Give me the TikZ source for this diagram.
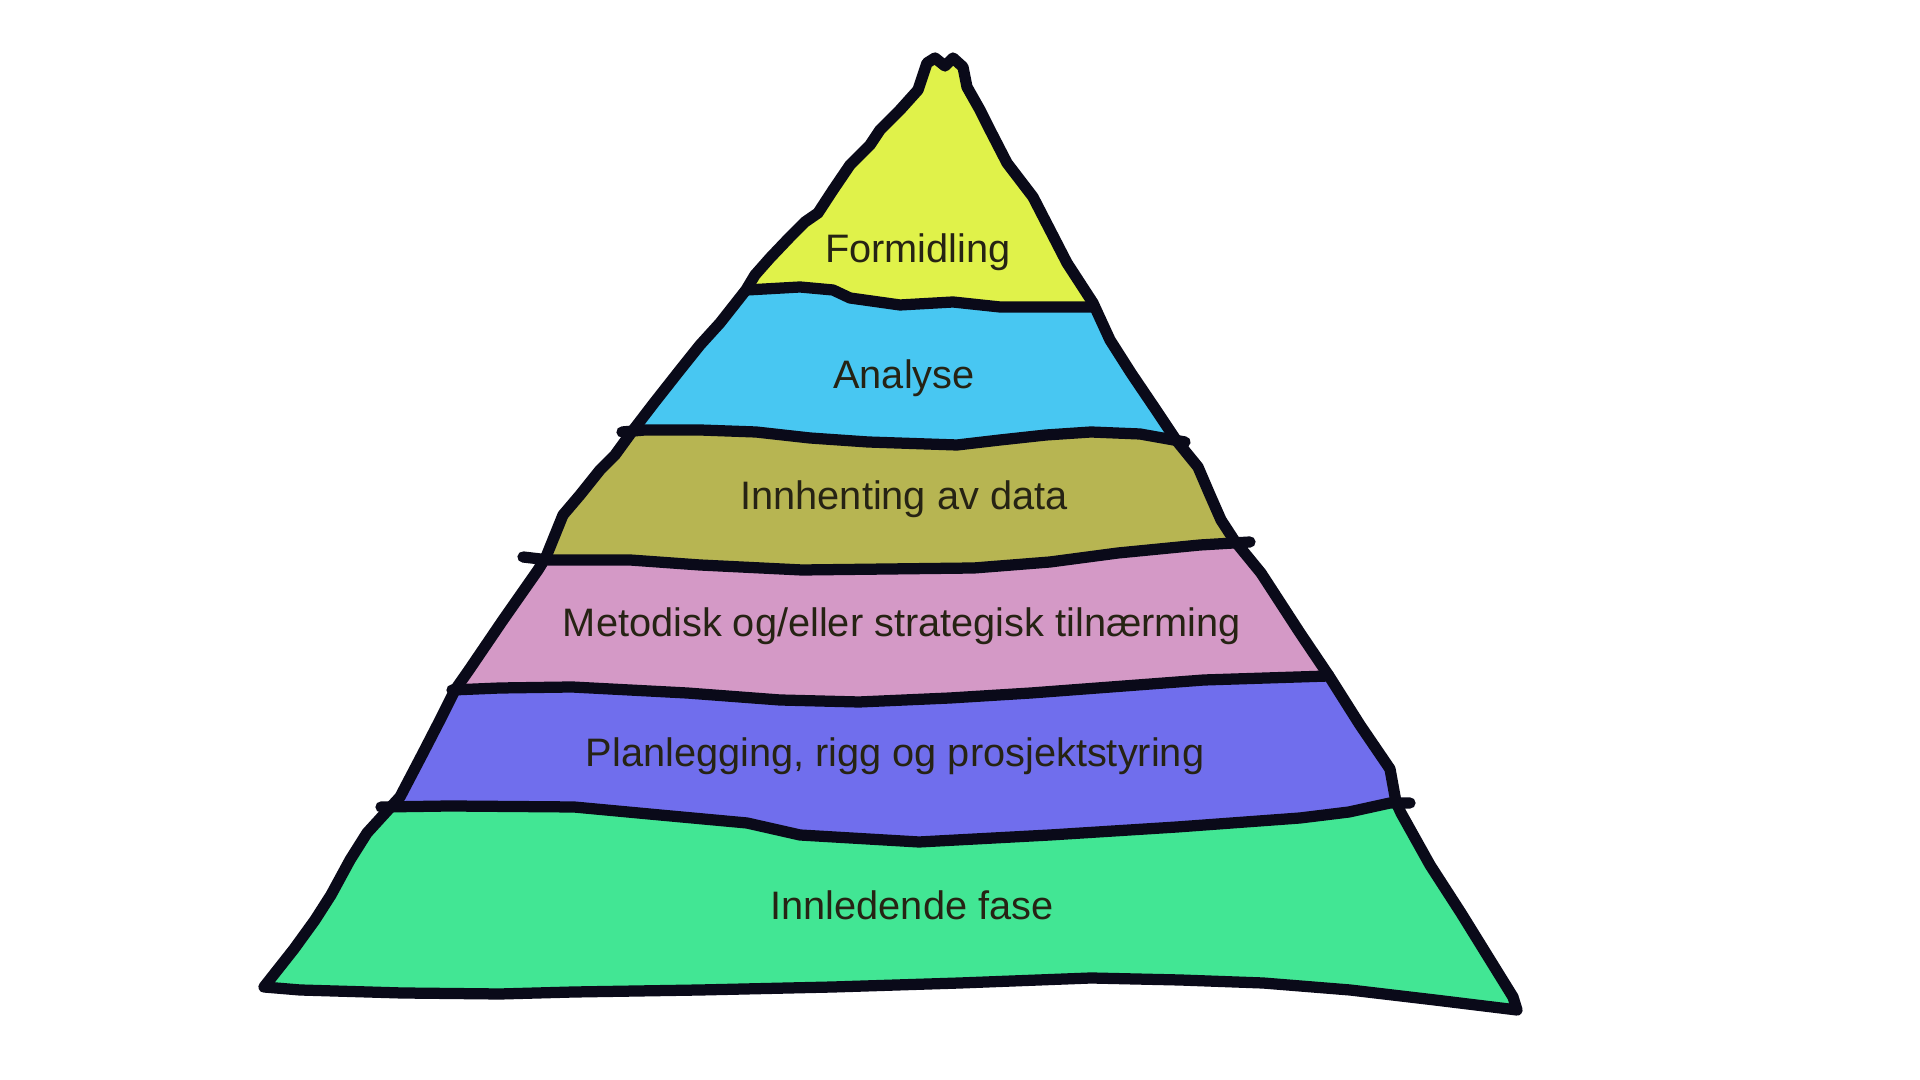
\documentclass[tikz,border=0pt]{standalone}
\usepackage{fontspec}
\setmainfont{Liberation Sans}
\definecolor{cYellow}{RGB}{224,242,74}
\definecolor{cBlue}{RGB}{72,199,242}
\definecolor{cOlive}{RGB}{183,181,82}
\definecolor{cPink}{RGB}{212,153,198}
\definecolor{cPurple}{RGB}{112,110,237}
\definecolor{cGreen}{RGB}{66,230,148}
\definecolor{cLine}{RGB}{10,10,25}
\definecolor{cText}{RGB}{38,35,20}
\tikzset{
  outline/.style={draw=cLine,line width=3.2pt,line join=round,line cap=round},
  label/.style={text=cText,anchor=base,inner sep=0pt,font=\fontsize{11.3pt}{13pt}\selectfont}
}
\begin{document}
\begin{tikzpicture}[x=0.01cm,y=-0.01cm]
\useasboundingbox[fill=white] (0,0) rectangle (1920,1080);
\begin{scope}
\clip (264,987) -- (294,949) -- (315,920) -- (331,895) -- (350,860) -- (367,833) -- (388,810) -- (400,797) -- (423,753) -- (440,720) -- (455,690) -- (469,670) -- (503,620) -- (538,570) -- (546,557) -- (563,515) -- (580,495) -- (600,470) -- (615,455) -- (631,433) -- (654,403) -- (680,370) -- (700,345) -- (720,323) -- (746,290) -- (755,275) -- (770,258) -- (790,237) -- (805,222) -- (818,213) -- (833,190) -- (850,165) -- (870,145) -- (880,130) -- (900,110) -- (918,90) -- (927,63) -- (935,58) -- (945,66) -- (953,58) -- (963,67) -- (967,87) -- (980,110) -- (990,130) -- (1007,163) -- (1020,180) -- (1033,197) -- (1050,230) -- (1067,263) -- (1080,283) -- (1093,303) -- (1110,340) -- (1131,373) -- (1154,407) -- (1176,440) -- (1198,467) -- (1210,495) -- (1221,520) -- (1234,540) -- (1261,573) -- (1300,633) -- (1329,676) -- (1360,725) -- (1390,769) -- (1396,802) -- (1401,813) -- (1430,865) -- (1461,913) -- (1513,997) -- (1517,1010) -- (1435,1000) -- (1350,990) -- (1263,983) -- (1180,980) -- (1091,978) -- (960,983) -- (833,987) -- (700,990) -- (574,992) -- (500,994) -- (402,993) -- (300,990) -- cycle;
\fill[cGreen] (0,0) rectangle (1920,1080);
% above boundary 5
\fill[cPurple] (0,0) -- (0,807) -- (381,807) -- (450,806) -- (574,807) -- (660,815) -- (747,823) -- (800,835) -- (919,842) -- (1050,835) -- (1177,827) -- (1300,818) -- (1349,812) -- (1390,803) -- (1410,803) -- (1920,803) -- (1920,0) -- cycle;
% above boundary 4
\fill[cPink] (0,0) -- (0,690) -- (452,690) -- (500,688) -- (572,687) -- (687,693) -- (780,700) -- (859,702) -- (950,698) -- (1031,693) -- (1204,680) -- (1329,676) -- (1920,676) -- (1920,0) -- cycle;
% above boundary 3
\fill[cOlive] (0,0) -- (0,557) -- (523,557) -- (549,560) -- (630,560) -- (700,565) -- (802,570) -- (974,568) -- (1050,562) -- (1118,553) -- (1200,545) -- (1250,542) -- (1920,542) -- (1920,0) -- cycle;
% above boundary 2
\fill[cBlue] (0,0) -- (0,432) -- (622,432) -- (645,430) -- (700,430) -- (756,432) -- (810,438) -- (868,442) -- (957,445) -- (1000,440) -- (1046,435) -- (1091,432) -- (1140,434) -- (1185,442) -- (1920,442) -- (1920,0) -- cycle;
% above boundary 1
\fill[cYellow] (0,0) -- (0,290) -- (747,290) -- (800,287) -- (833,290) -- (850,298) -- (900,305) -- (953,302) -- (1000,307) -- (1092,307) -- (1920,307) -- (1920,0) -- cycle;
\end{scope}
% pyramid outline
\path[outline] (264,987) -- (294,949) -- (315,920) -- (331,895) -- (350,860) -- (367,833) -- (388,810) -- (400,797) -- (423,753) -- (440,720) -- (455,690) -- (469,670) -- (503,620) -- (538,570) -- (546,557) -- (563,515) -- (580,495) -- (600,470) -- (615,455) -- (631,433) -- (654,403) -- (680,370) -- (700,345) -- (720,323) -- (746,290) -- (755,275) -- (770,258) -- (790,237) -- (805,222) -- (818,213) -- (833,190) -- (850,165) -- (870,145) -- (880,130) -- (900,110) -- (918,90) -- (927,63) -- (935,58) -- (945,66) -- (953,58) -- (963,67) -- (967,87) -- (980,110) -- (990,130) -- (1007,163) -- (1020,180) -- (1033,197) -- (1050,230) -- (1067,263) -- (1080,283) -- (1093,303) -- (1110,340) -- (1131,373) -- (1154,407) -- (1176,440) -- (1198,467) -- (1210,495) -- (1221,520) -- (1234,540) -- (1261,573) -- (1300,633) -- (1329,676) -- (1360,725) -- (1390,769) -- (1396,802) -- (1401,813) -- (1430,865) -- (1461,913) -- (1513,997) -- (1517,1010) -- (1435,1000) -- (1350,990) -- (1263,983) -- (1180,980) -- (1091,978) -- (960,983) -- (833,987) -- (700,990) -- (574,992) -- (500,994) -- (402,993) -- (300,990) -- cycle;
% layer boundaries
\path[outline] (747,290) -- (800,287) -- (833,290) -- (850,298) -- (900,305) -- (953,302) -- (1000,307) -- (1092,307);
\path[outline] (622,432) -- (645,430) -- (700,430) -- (756,432) -- (810,438) -- (868,442) -- (957,445) -- (1000,440) -- (1046,435) -- (1091,432) -- (1140,434) -- (1185,442);
\path[outline] (523,557) -- (549,560) -- (630,560) -- (700,565) -- (802,570) -- (974,568) -- (1050,562) -- (1118,553) -- (1200,545) -- (1250,542);
\path[outline] (452,690) -- (500,688) -- (572,687) -- (687,693) -- (780,700) -- (859,702) -- (950,698) -- (1031,693) -- (1204,680) -- (1329,676);
\path[outline] (381,807) -- (450,806) -- (574,807) -- (660,815) -- (747,823) -- (800,835) -- (919,842) -- (1050,835) -- (1177,827) -- (1300,818) -- (1349,812) -- (1390,803) -- (1410,803);
% labels
\node[label] (l1) at (918,263) {Formidling};
\node[label] (l2) at (904,389) {Analyse};
\node[label] (l3) at (904,510) {Innhenting av data};
\node[label] (l4) at (902,637) {Metodisk og/eller strategisk tilnærming};
\node[label] (l5) at (895,767) {Planlegging, rigg og prosjektstyring};
\node[label] (l6) at (912,920) {Innledende fase};
\end{tikzpicture}
\end{document}
